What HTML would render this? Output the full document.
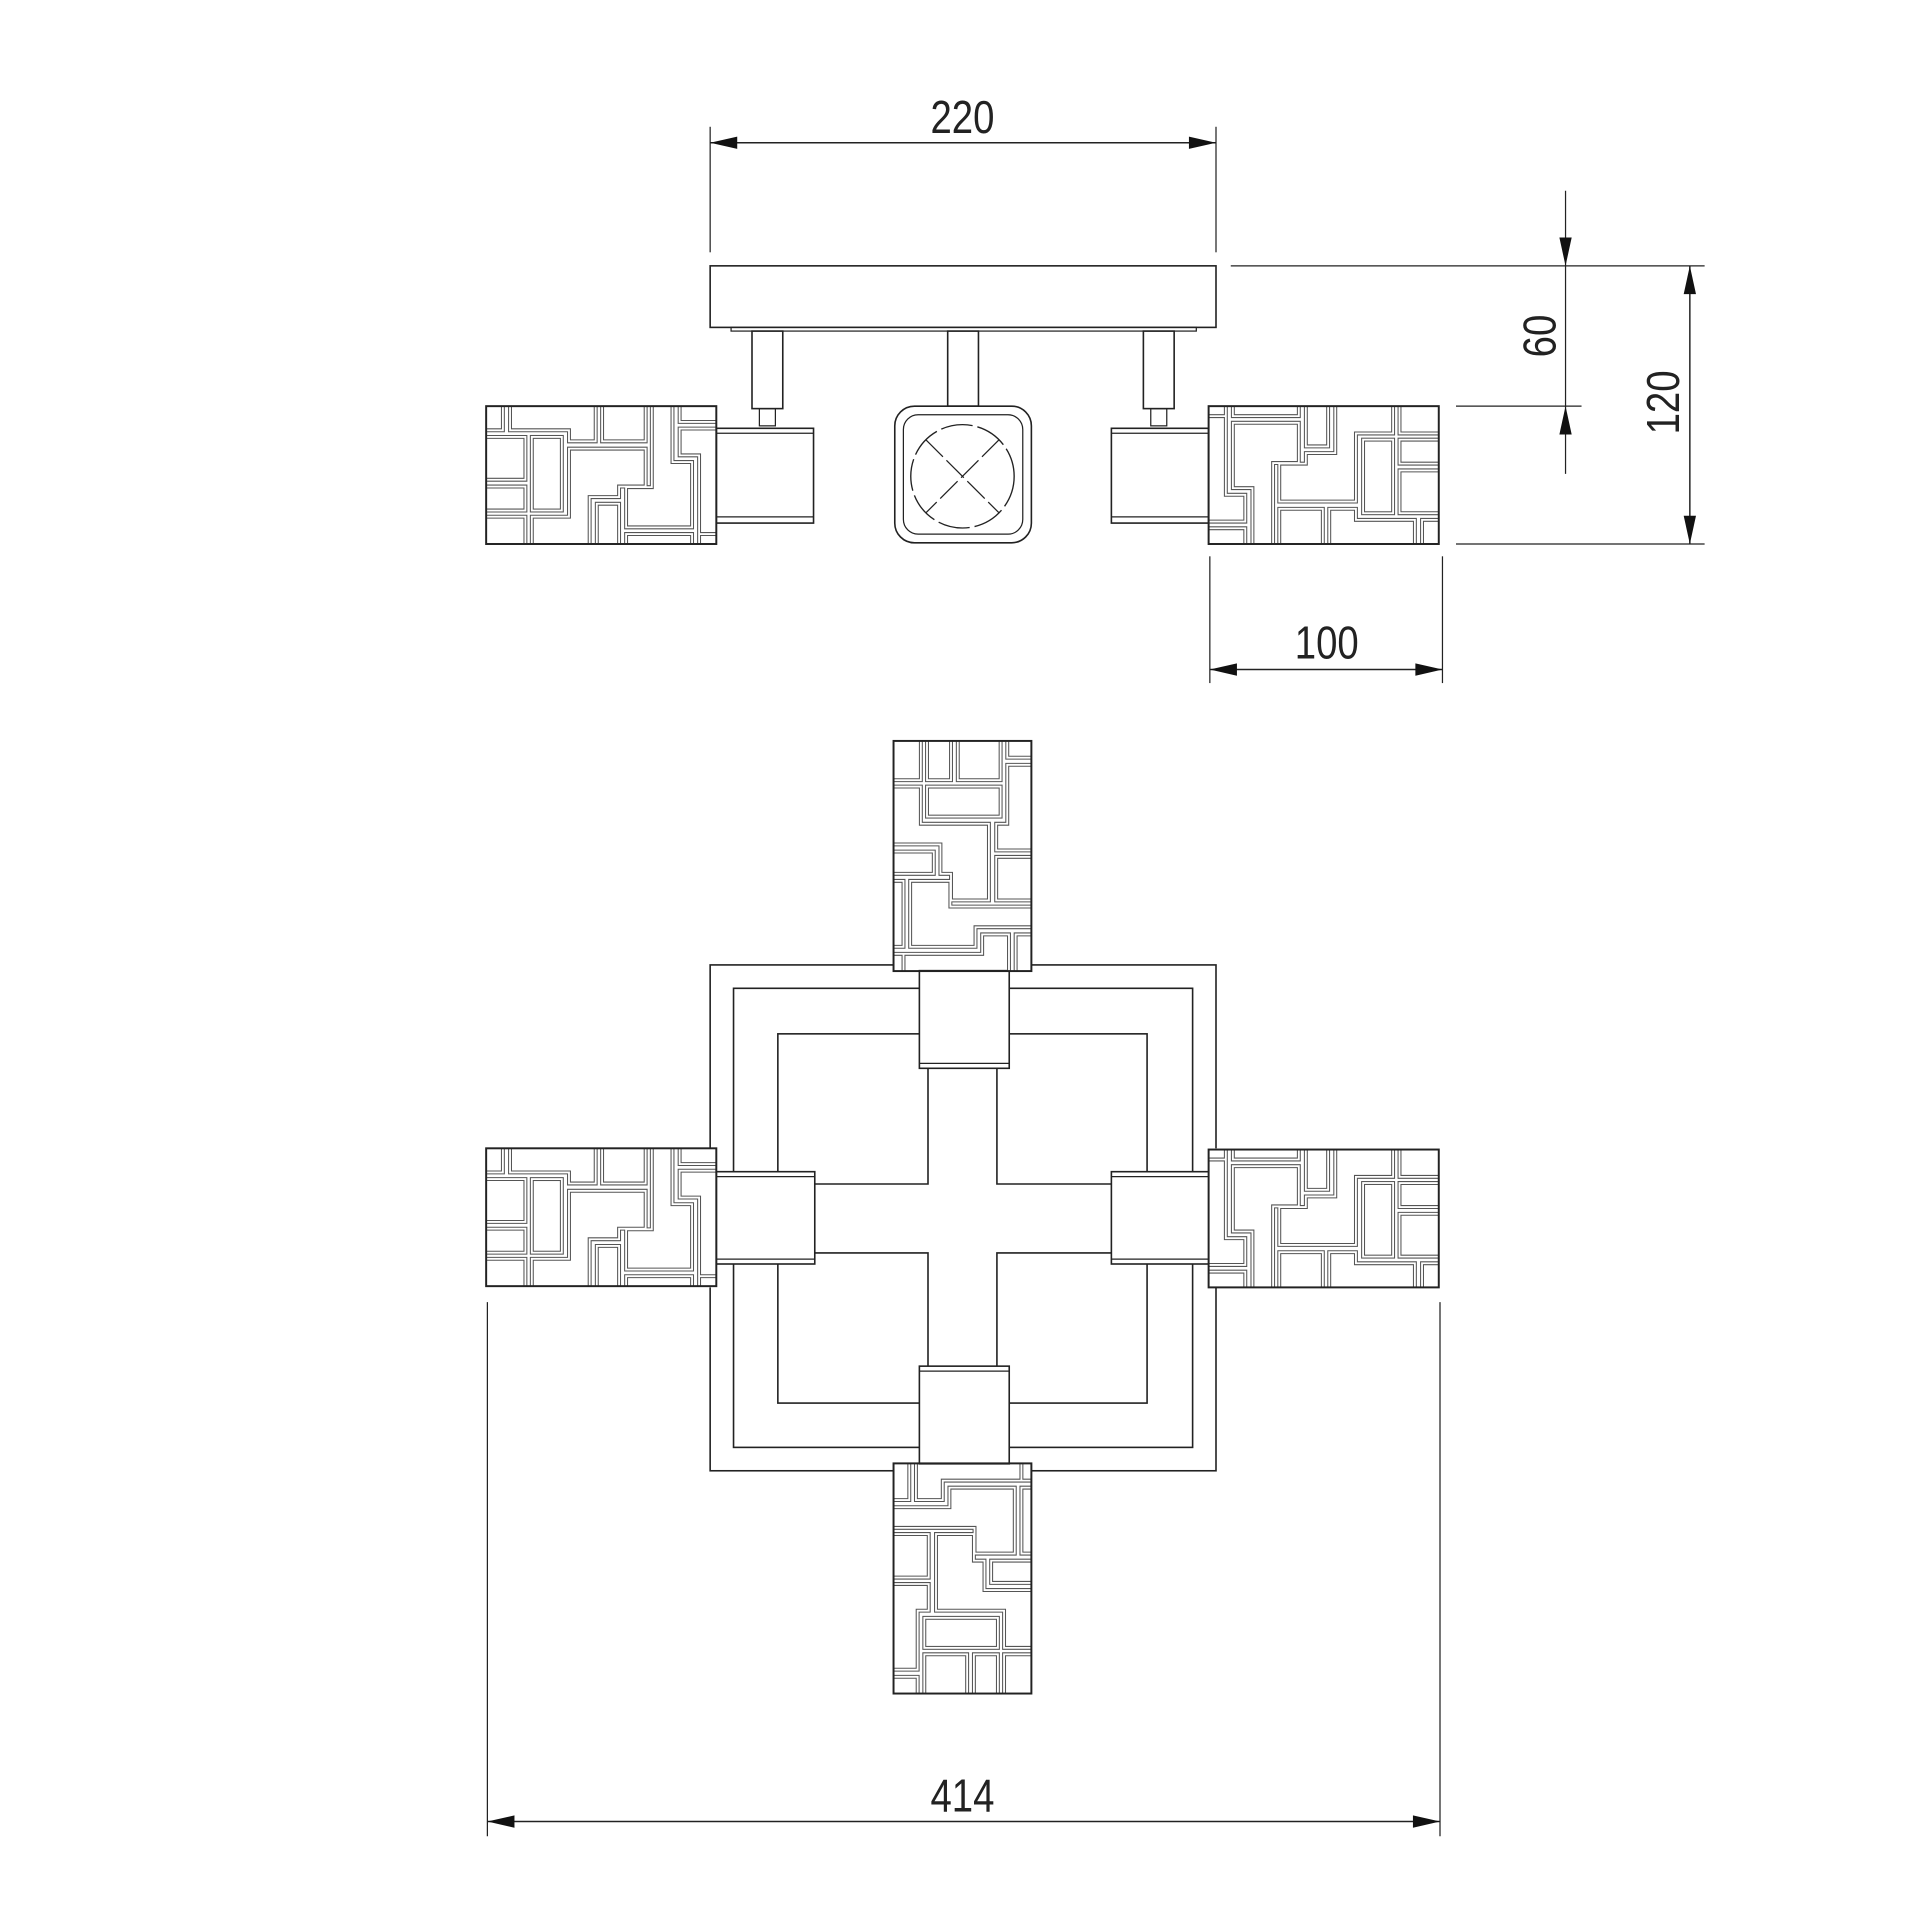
<!DOCTYPE html>
<html><head><meta charset="utf-8"><style>
html,body{margin:0;padding:0;background:#fff;}
svg{display:block;}
text{font-family:"Liberation Sans",sans-serif;fill:#222;}
</style></head><body>
<svg width="1920" height="1920" viewBox="0 0 1560 1560" xmlns="http://www.w3.org/2000/svg">
<defs>
<g id="pl">
    <polyline points="0,19.6 13.6,19.6 13.6,0"/>
    <polyline points="19.4,0 19.4,19.6 67.3,19.6 67.3,28.6 89,28.6 89,0"/>
    <polyline points="94.2,0 94.2,28.6 129.6,28.6 129.6,0"/>
    <polyline points="134.6,0 134.6,65.8 113.7,65.8 113.7,98.5 167.3,98.5 167.3,45.4 151.4,45.4 151.4,0"/>
    <polyline points="157.2,0 157.2,12.8 187,12.8"/>
    <polyline points="187,18.2 157.2,18.2 157.2,40 173,40 173,112"/>
    <polyline points="0,25 31.9,25 31.9,59.8 0,59.8"/>
    <rect x="37.1" y="25" width="24.4" height="59.8"/>
    <polyline points="0,65.3 31.9,65.3 31.9,84.8 0,84.8"/>
    <polyline points="0,89.8 31.9,89.8 31.9,112"/>
    <polyline points="37.1,112 37.1,89.8 67.3,89.8 67.3,34.5 129.6,34.5 129.6,65.3 108,65.3 108,73.9 84.1,73.9 84.1,112"/>
    <polyline points="89.9,112 89.9,79.3 108,79.3 108,112"/>
    <polyline points="113.7,112 113.7,103.9 167.3,103.9 167.3,112"/>
    <polyline points="173,103.9 187,103.9"/>
</g>
<g id="pat" fill="none">
  <use href="#pl" stroke="#555" stroke-width="3.2"/>
  <use href="#pl" stroke="#fff" stroke-width="1.5"/>
  <rect x="0" y="0" width="187" height="112" stroke="#222" stroke-width="1.6"/>
</g>
</defs>

<g fill="none" stroke="#222" stroke-width="1.3">
<line x1="577" y1="103" x2="577" y2="205" stroke-width="1"/>
<line x1="988" y1="103" x2="988" y2="205" stroke-width="1"/>
<line x1="577" y1="116" x2="988" y2="116" stroke-width="1.2"/>
<rect x="577" y="216" width="411" height="50"/>
<rect x="594" y="266" width="378" height="3" stroke-width="1"/>
<rect x="611" y="269" width="25" height="63"/>
<rect x="617" y="332" width="13" height="14" stroke-width="1"/>
<rect x="770" y="269" width="25" height="61"/>
<rect x="929" y="269" width="25" height="63"/>
<rect x="935" y="332" width="13" height="14" stroke-width="1"/>
<rect x="582" y="348" width="79" height="77"/>
<line x1="582" y1="352" x2="661" y2="352" stroke-width="1"/>
<line x1="582" y1="420" x2="661" y2="420" stroke-width="1"/>
<rect x="903" y="348" width="79" height="77"/>
<line x1="903" y1="352" x2="982" y2="352" stroke-width="1"/>
<line x1="903" y1="420" x2="982" y2="420" stroke-width="1"/>
<rect x="727" y="330" width="111" height="111" rx="16"/>
<rect x="734" y="337" width="97" height="97" rx="12" stroke-width="1"/>
<circle cx="782" cy="387" r="42" stroke-dasharray="26 4" stroke-width="1.1"/>
<line x1="752" y1="357" x2="812" y2="417" stroke-dasharray="20 4" stroke-width="1"/>
<line x1="812" y1="357" x2="752" y2="417" stroke-dasharray="20 4" stroke-width="1"/>
<line x1="1000" y1="216" x2="1385" y2="216" stroke-width="1"/>
<line x1="1183" y1="330" x2="1285" y2="330" stroke-width="1"/>
<line x1="1183" y1="442" x2="1385" y2="442" stroke-width="1"/>
<line x1="1272" y1="155" x2="1272" y2="385" stroke-width="1"/>
<line x1="1373" y1="216" x2="1373" y2="442" stroke-width="1.2"/>
<line x1="983" y1="452" x2="983" y2="555" stroke-width="1"/>
<line x1="1172" y1="452" x2="1172" y2="555" stroke-width="1"/>
<line x1="983" y1="544" x2="1172" y2="544" stroke-width="1.2"/>

<rect x="577" y="784" width="411" height="411"/>
<rect x="596" y="803" width="373" height="373"/>
<rect x="632" y="840" width="300" height="300"/>
<g fill="#fff">
<rect x="632" y="962" width="300" height="56" stroke="none"/>
<rect x="754" y="840" width="56" height="300" stroke="none"/>
</g>
<polyline points="662,962 754,962 754,868"/>
<polyline points="810,868 810,962 903,962"/>
<polyline points="662,1018 754,1018 754,1110"/>
<polyline points="810,1110 810,1018 903,1018"/>
<rect x="747" y="788" width="73" height="80" fill="#fff"/>
<line x1="747" y1="864" x2="820" y2="864" stroke-width="1"/>
<rect x="747" y="1110" width="73" height="80" fill="#fff"/>
<line x1="747" y1="1114" x2="820" y2="1114" stroke-width="1"/>
<rect x="582" y="952" width="80" height="75" fill="#fff"/>
<line x1="582" y1="956" x2="662" y2="956" stroke-width="1"/>
<line x1="582" y1="1023" x2="662" y2="1023" stroke-width="1"/>
<rect x="903" y="952" width="80" height="75" fill="#fff"/>
<line x1="903" y1="956" x2="983" y2="956" stroke-width="1"/>
<line x1="903" y1="1023" x2="983" y2="1023" stroke-width="1"/>
<line x1="396" y1="1058" x2="396" y2="1492" stroke-width="1"/>
<line x1="1170" y1="1058" x2="1170" y2="1492" stroke-width="1"/>
<line x1="396" y1="1480" x2="1170" y2="1480" stroke-width="1.2"/>
</g>

<rect x="395" y="330" width="187" height="112" fill="#fff"/>
<use href="#pat" transform="translate(395,330)"/>
<rect x="982" y="330" width="187" height="112" fill="#fff"/>
<use href="#pat" transform="translate(1169,442) rotate(180)"/>
<rect x="726" y="602" width="112" height="186" fill="#fff"/>
<use href="#pat" transform="translate(838,602) rotate(90)"/>
<rect x="726" y="1190" width="112" height="186" fill="#fff"/>
<use href="#pat" transform="translate(726,1376) rotate(-90)"/>
<rect x="395" y="933" width="187" height="113" fill="#fff"/>
<use href="#pat" transform="translate(395,933)"/>
<rect x="982" y="933" width="187" height="113" fill="#fff"/>
<use href="#pat" transform="translate(1169,1046) rotate(180)"/>

<g fill="#111">
<polygon points="577,116 599,111 599,121"/>
<polygon points="988,116 966,111 966,121"/>
<polygon points="1272,216 1267,193 1277,193"/>
<polygon points="1272,330 1267,353 1277,353"/>
<polygon points="1373,216 1368,239 1378,239"/>
<polygon points="1373,442 1368,419 1378,419"/>
<polygon points="983,544 1005,539 1005,549"/>
<polygon points="1172,544 1150,539 1150,549"/>
<polygon points="396,1480 418,1475 418,1485"/>
<polygon points="1170,1480 1148,1475 1148,1485"/>
</g>

<g font-size="38">
<text x="0" y="0" text-anchor="middle" transform="translate(782,108) scale(0.82,1)">220</text>
<text x="0" y="0" text-anchor="middle" transform="translate(1078,535) scale(0.82,1)">100</text>
<text x="0" y="0" text-anchor="middle" transform="translate(782,1472) scale(0.82,1)">414</text>
<text x="0" y="0" text-anchor="middle" transform="translate(1264,273) rotate(-90) scale(0.82,1)">60</text>
<text x="0" y="0" text-anchor="middle" transform="translate(1364,327) rotate(-90) scale(0.82,1)">120</text>
</g>
</svg>
</body></html>
